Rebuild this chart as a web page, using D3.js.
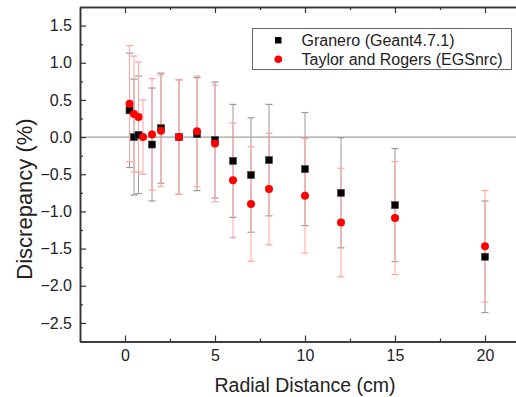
<!DOCTYPE html>
<html>
<head>
<meta charset="utf-8">
<script src="https://cdn.jsdelivr.net/npm/d3@7"></script>
<style>
    body { margin: 0; background: #fff; }
    svg { display: block; font-family: 'Liberation Sans', Arial, sans-serif; }
</style>
</head>
<body>
<svg id="chart" width="516" height="397"></svg>
<script>
// Granero (Geant4.7.1)
const graneroX = [0.25, 0.5, 0.75, 1.5, 2, 3, 4, 5, 6, 7, 8, 10, 12, 15, 20];
const graneroY = [0.36, 0.00, 0.03, -0.10, 0.12, 0.00, 0.04, -0.04, -0.32, -0.51, -0.31, -0.43, -0.75, -0.915, -1.61];
const graneroErr = [0.77, 0.78, 0.79, 0.76, 0.74, 0.77, 0.76, 0.78, 0.76, 0.77, 0.75, 0.76, 0.74, 0.76, 0.75];

// Taylor and Rogers (EGSnrc)
const taylorX = [0.25, 0.5, 0.75, 1, 1.5, 2, 3, 4, 5, 6, 7, 8, 10, 12, 15, 20];
const taylorY = [0.45, 0.31, 0.27, 0.00, 0.035, 0.085, 0.00, 0.077, -0.085, -0.58, -0.90, -0.70, -0.79, -1.15, -1.09, -1.47];
const taylorErr = [0.78, 0.78, 0.74, 0.50, 0.75, 0.75, 0.77, 0.745, 0.785, 0.77, 0.77, 0.75, 0.77, 0.73, 0.76, 0.75];

const xTicks = [0, 5, 10, 15, 20];
const yTicks = [-2.5, -2.0, -1.5, -1.0, -0.5, 0.0, 0.5, 1.0, 1.5];
const seriesNames = ['Granero (Geant4.7.1)', 'Taylor and Rogers (EGSnrc)'];

const margin = { top: 7, right: -14, bottom: 55.5, left: 80 };
const width = 516 - margin.left - margin.right;
const height = 397 - margin.top - margin.bottom;

const svg = d3.select('#chart');
const g = svg.append('g')
    .attr('transform', `translate(${margin.left},${margin.top})`);

const x = d3.scaleLinear().domain([-2.5, 22.5]).range([0, width]);
const y = d3.scaleLinear().domain([-2.75, 1.75]).range([height, 0]);

const axisColor = '#333';

// zero line
g.append('line')
    .attr('x1', 0).attr('x2', width)
    .attr('y1', y(0)).attr('y2', y(0))
    .attr('stroke', '#8a8a8a')
    .attr('stroke-width', 1);

function errorBars(xs, ys, errs, color, cls) {
    const grp = g.append('g').attr('class', cls);
    const data = xs.map((d, i) => ({ x: d, y: ys[i], e: errs[i] }));
    grp.selectAll('line.bar')
        .data(data)
        .enter()
        .append('line')
            .attr('class', 'bar')
            .attr('x1', d => x(d.x)).attr('x2', d => x(d.x))
            .attr('y1', d => y(d.y + d.e)).attr('y2', d => y(d.y - d.e))
            .attr('stroke', color)
            .attr('stroke-width', 1);
    ['top', 'bottom'].forEach(side => {
        grp.selectAll('line.cap-' + side)
            .data(data)
            .enter()
            .append('line')
                .attr('class', 'cap-' + side)
                .attr('x1', d => x(d.x) - 3.5).attr('x2', d => x(d.x) + 3.5)
                .attr('y1', d => y(side === 'top' ? d.y + d.e : d.y - d.e))
                .attr('y2', d => y(side === 'top' ? d.y + d.e : d.y - d.e))
                .attr('stroke', color)
                .attr('stroke-width', 1.2);
    });
}

errorBars(graneroX, graneroY, graneroErr, '#9a9a9a', 'err-granero');
errorBars(taylorX, taylorY, taylorErr, '#ffa3a3', 'err-taylor');

// squares
g.append('g')
    .attr('class', 'granero')
    .selectAll('rect')
    .data(graneroX.map((d, i) => [d, graneroY[i]]))
    .enter()
    .append('rect')
        .attr('x', d => x(d[0]) - 3.5)
        .attr('y', d => y(d[1]) - 3.5)
        .attr('width', 7)
        .attr('height', 7)
        .attr('fill', '#000')
        .attr('stroke', '#444')
        .attr('stroke-width', 0.6);

// circles
g.append('g')
    .attr('class', 'taylor')
    .selectAll('circle')
    .data(taylorX.map((d, i) => [d, taylorY[i]]))
    .enter()
    .append('circle')
        .attr('cx', d => x(d[0]))
        .attr('cy', d => y(d[1]))
        .attr('r', 4)
        .attr('fill', '#ff0000');

// axes
function styleAxis(sel) {
    sel.selectAll('path').attr('stroke', axisColor).attr('stroke-width', 1.5);
    sel.selectAll('line').attr('stroke', axisColor).attr('stroke-width', 1.2);
    sel.selectAll('text').attr('fill', '#222').style('font-size', '16px');
}

const xMinor = d3.range(-2.5, 22.6, 2.5).filter(v => v % 5 !== 0);
const yMinor = d3.range(-2.75, 1.76, 0.25).filter(v => Math.abs((v * 2) % 1) > 0.01);

g.append('g')
    .attr('transform', `translate(0,${height})`)
    .call(d3.axisBottom(x).tickValues(xTicks).tickSize(-6).tickSizeOuter(0).tickPadding(8).tickFormat(d3.format('d')))
    .call(styleAxis);
g.append('g')
    .attr('transform', `translate(0,${height})`)
    .call(d3.axisBottom(x).tickValues(xMinor).tickSize(-3).tickSizeOuter(0).tickFormat(''))
    .call(styleAxis);

g.append('g')
    .call(d3.axisTop(x).tickValues(xTicks).tickSize(-6).tickSizeOuter(0).tickFormat(''))
    .call(styleAxis);
g.append('g')
    .call(d3.axisTop(x).tickValues(xMinor).tickSize(-3).tickSizeOuter(0).tickFormat(''))
    .call(styleAxis);

g.append('g')
    .call(d3.axisLeft(y).tickValues(yTicks).tickSize(-6).tickSizeOuter(0).tickPadding(8).tickFormat(d3.format('.1f')))
    .call(styleAxis);
g.append('g')
    .call(d3.axisLeft(y).tickValues(yMinor).tickSize(-3).tickSizeOuter(0).tickFormat(''))
    .call(styleAxis);

g.append('g')
    .attr('transform', `translate(${width},0)`)
    .call(d3.axisRight(y).tickValues(yTicks).tickSize(-6).tickSizeOuter(0).tickFormat(''))
    .call(styleAxis);

// axis titles
svg.append('text')
    .attr('x', margin.left + width / 2)
    .attr('y', 392)
    .attr('text-anchor', 'middle')
    .attr('fill', '#222')
    .style('font-size', '19.5px')
    .text('Radial Distance (cm)');

svg.append('text')
    .attr('transform', `translate(32,199) rotate(-90)`)
    .attr('text-anchor', 'middle')
    .attr('fill', '#222')
    .style('font-size', '22px')
    .text('Discrepancy (%)');

// legend
const legend = svg.append('g').attr('class', 'legend');
legend.append('rect')
    .attr('x', 252.5).attr('y', 28.5)
    .attr('width', 259).attr('height', 41)
    .attr('fill', '#fff')
    .attr('stroke', '#666')
    .attr('stroke-width', 1);
legend.append('rect')
    .attr('x', 275).attr('y', 37)
    .attr('width', 6.5).attr('height', 6.5)
    .attr('fill', '#000');
legend.append('circle')
    .attr('cx', 278.3).attr('cy', 59.3)
    .attr('r', 3.8)
    .attr('fill', '#ff0000');
legend.selectAll('text')
    .data(seriesNames)
    .enter()
    .append('text')
        .attr('x', 301.5)
        .attr('y', (d, i) => 45.5 + i * 19.5)
        .attr('fill', '#222')
        .style('font-size', '16px')
        .text(d => d);
</script>
</body>
</html>
